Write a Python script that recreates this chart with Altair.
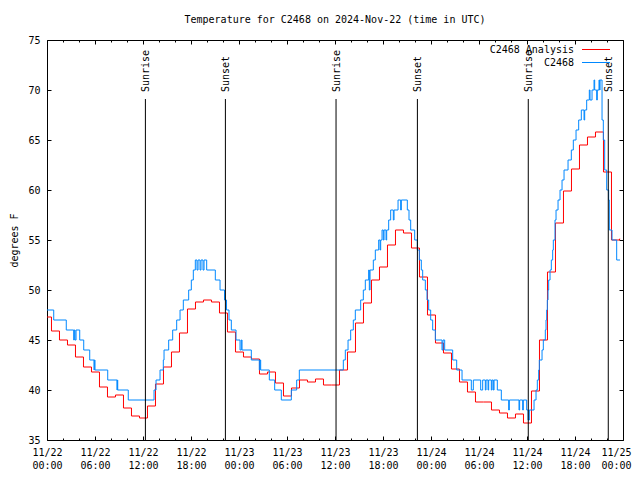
import altair as alt
import pandas as pd

W, H = 576, 400
FONT = "DejaVu Sans Mono"

# ---- data (hours since 2024-11-22 00:00 UTC, degrees F) ----
analysis_temps = [47.3, 45.9, 45.0, 44.5, 43.3, 42.3, 41.8, 40.3, 39.3, 39.5, 38.2, 37.4,
                  37.2, 38.4, 40.6, 42.3, 43.8, 45.7, 48.1, 48.8, 49.0, 48.8, 47.7, 45.8,
                  43.8, 43.3, 43.1, 41.6, 41.8, 40.7, 39.4, 40.2, 41.0, 40.8, 41.1, 40.5,
                  40.5, 42.0, 43.8, 46.7, 48.7, 51.0, 52.3, 54.5, 56.0, 55.7, 54.2, 51.3,
                  47.5, 44.7, 43.7, 42.1, 40.8, 39.8, 38.8, 38.8, 38.0, 37.7, 37.2, 37.6,
                  36.7, 39.9, 45.0, 51.8, 56.7, 59.9, 62.1, 64.5, 65.3, 65.8, 61.8, 55.0, 55.1]
analysis_hours = [0.0] + [k + 0.56 for k in range(72)]
analysis_end_hour = 71.65

obs_hours = [0.00, 0.84, 2.41, 3.34, 3.41, 3.50, 3.63, 4.09, 4.59, 5.34, 5.88, 5.92, 6.00,
             7.59, 8.75, 8.79, 8.84, 10.16, 13.38, 13.63, 14.13, 14.54, 14.63, 15.21, 15.71,
             16.21, 16.63, 17.04, 17.71, 18.04, 18.29, 18.54, 18.75, 18.88, 19.13, 19.25,
             19.50, 19.63, 19.96, 21.04, 21.63, 22.19, 22.44, 22.75, 23.04, 23.63, 24.13,
             24.29, 24.38, 25.54, 26.54, 26.63, 26.71, 27.79, 28.46, 29.29, 30.54, 31.21,
             31.54, 37.04, 37.29, 37.63, 37.96, 38.29, 38.54, 39.21, 39.54, 39.79, 40.21,
             40.29, 40.38, 40.79, 41.04, 41.46, 41.63, 41.71, 41.88, 42.04, 42.13, 42.38,
             42.46, 42.71, 42.96, 43.29, 43.38, 43.88, 44.21, 44.29, 45.04, 45.25, 45.46,
             45.96, 46.29, 46.54, 46.79, 46.96, 47.29, 47.50, 47.71, 47.96, 48.21, 48.54,
             49.38, 49.50, 49.71, 50.71, 51.21, 51.88, 53.04, 53.29, 54.21, 54.46, 54.79,
             54.88, 55.13, 55.21, 55.54, 55.63, 55.79, 55.88, 56.29, 56.79, 57.71, 57.79,
             59.00, 59.08, 59.46, 59.54, 59.96, 60.13, 60.29, 60.88, 61.13, 61.29, 61.46,
             61.54, 61.88, 62.04, 62.29, 62.38, 62.46, 62.54, 62.63, 62.71, 62.88, 63.04,
             63.21, 63.29, 63.50, 63.63, 63.88, 64.13, 64.38, 64.63, 65.13, 65.54, 65.79,
             66.13, 66.46, 66.79, 67.13, 67.21, 67.46, 67.79, 67.88, 68.13, 68.38, 68.46,
             68.71, 68.79, 69.00, 69.08, 69.13, 69.38, 69.54, 69.71, 69.96, 70.21, 70.29,
             70.63, 71.21, 71.63]
obs_temps = [48, 47, 46, 45, 46, 45, 46, 45, 44, 43, 42, 43, 42,
             41, 40, 41, 40, 39, 40, 41, 42, 43, 44, 45, 46,
             47, 48, 49, 50, 51, 52, 53, 52, 53, 52, 53,
             52, 53, 52, 51, 50, 49, 48, 47, 46, 45, 44,
             45, 44, 43, 42, 43, 42, 41, 40, 39, 40, 41,
             42, 43, 44, 45, 46, 47, 48, 49, 50, 51, 52,
             50, 52, 53, 54, 55, 54, 55, 56, 55, 56, 55,
             56, 57, 58, 57, 58, 59, 58, 59, 58, 57, 56,
             55, 54, 53, 52, 51, 50, 49, 48, 47, 46, 45,
             44, 45, 44, 43, 42, 41, 40, 41, 40, 41, 40,
             41, 40, 41, 40, 41, 40, 41, 40, 39, 38, 39,
             38, 39, 38, 39, 38, 37, 38, 39, 40, 41, 42,
             43, 44, 45, 46, 47, 48, 49, 50, 51, 52, 53,
             54, 55, 57, 58, 59, 60, 61, 62, 63, 64, 65,
             66, 67, 68, 67, 68, 69, 70, 69, 70, 71, 70,
             69, 70, 71, 70, 71, 67, 65, 62, 60, 59, 56,
             55, 53, 53]

sun_hours = [12.3, 22.3, 36.13, 46.3, 60.16, 70.16]
sun_labels = ["Sunrise", "Sunset", "Sunrise", "Sunset", "Sunrise", "Sunset"]

major_ticks = [0, 6, 12, 18, 24, 30, 36, 42, 48, 54, 60, 66, 72]
minor_ticks = [2, 4, 8, 10, 14, 16, 20, 22, 26, 28, 32, 34, 38, 40, 44, 46, 50, 52, 56, 58, 62, 64, 68, 70]
y_ticks = [35, 40, 45, 50, 55, 60, 65, 70, 75]

series_names = ["C2468 Analysis", "C2468"]
series_colors = ["#ff0000", "#0088ff"]

# ---- frames ----
red_df = pd.DataFrame({"hour": analysis_hours + [analysis_end_hour],
                       "temp": analysis_temps + [analysis_temps[-1]]})
blue_df = pd.DataFrame({"hour": obs_hours, "temp": obs_temps})
sun_df = pd.DataFrame({"hour": sun_hours, "label": sun_labels})

xs = alt.Scale(domain=[0, 72], nice=False, zero=False)
ys = alt.Scale(domain=[35, 75], nice=False, zero=False)

label_expr = ("['11/' + (22 + floor(datum.value / 24)), "
              "(datum.value % 24 < 10 ? '0' : '') + (datum.value % 24) + ':00']")


def tick_axis(orient, values, size, offset):
    return alt.Axis(orient=orient, values=values, tickSize=size, offset=offset,
                    labels=False, domain=False, grid=False, tickColor="black",
                    tickWidth=1, title=None)


red = alt.Chart(red_df).mark_line(interpolate="step-after", color=series_colors[0],
                                  strokeWidth=1).encode(
    x=alt.X("hour:Q", scale=xs, title=None,
            axis=alt.Axis(orient="bottom", values=major_ticks, labelExpr=label_expr,
                          tickSize=0, labelPadding=7, labelLineHeight=13,
                          labelAlign=alt.ExprRef("datum.value == 72 ? 'right' : 'center'"),
                          labelOffset=alt.ExprRef("datum.value == 72 ? 8 : 0"),
                          labelFlush=False, labelOverlap=False, domain=False, grid=False)),
    y=alt.Y("temp:Q", scale=ys, title="degrees F",
            axis=alt.Axis(orient="left", values=y_ticks, tickSize=0, labelPadding=7,
                          labelFlush=False, labelOverlap=False, domain=False, grid=False,
                          titlePadding=8)),
)

blue = alt.Chart(blue_df).mark_line(interpolate="step-after", color=series_colors[1],
                                    strokeWidth=1).encode(
    x=alt.X("hour:Q", scale=xs, axis=tick_axis("top", major_ticks, 4, -H)),
    y=alt.Y("temp:Q", scale=ys, axis=tick_axis("right", y_ticks, 4, -W)),
)

dummy1 = alt.Chart(red_df).mark_line(strokeOpacity=0).encode(
    x=alt.X("hour:Q", scale=xs, axis=tick_axis("bottom", major_ticks, 4, -H)),
    y=alt.Y("temp:Q", scale=ys, axis=tick_axis("left", y_ticks, 4, -W)),
)
dummy2 = alt.Chart(red_df).mark_line(strokeOpacity=0).encode(
    x=alt.X("hour:Q", scale=xs, axis=tick_axis("top", minor_ticks, 2, -H)),
    y=alt.Y("temp:Q", scale=ys, axis=None),
)
dummy3 = alt.Chart(red_df).mark_line(strokeOpacity=0).encode(
    x=alt.X("hour:Q", scale=xs, axis=tick_axis("bottom", minor_ticks, 2, -H)),
    y=alt.Y("temp:Q", scale=ys, axis=None),
)

sun_rules = alt.Chart(sun_df).mark_rule(color="black", strokeWidth=1).encode(
    x=alt.X("hour:Q", scale=xs, axis=None),
    y=alt.value(59), y2=alt.value(H),
)
sun_text = alt.Chart(sun_df).mark_text(angle=270, align="left", baseline="middle",
                                       font=FONT, fontSize=10, color="black", dy=1).encode(
    x=alt.X("hour:Q", scale=xs, axis=None),
    y=alt.value(52),
    text="label:N",
)


def legend_entry(name, color, ypix):
    d = pd.DataFrame({"name": [name]})
    txt = alt.Chart(d).mark_text(align="right", baseline="middle", font=FONT, fontSize=10,
                                 color="black").encode(
        x=alt.value(527), y=alt.value(ypix), text="name:N")
    ln = alt.Chart(d).mark_rule(color=color, strokeWidth=1).encode(
        x=alt.value(535), x2=alt.value(563), y=alt.value(ypix))
    return [txt, ln]


legend_layers = legend_entry(series_names[0], series_colors[0], 9.5) + \
    legend_entry(series_names[1], series_colors[1], 22.5)

chart = alt.layer(red, blue, dummy1, dummy2, dummy3, sun_rules, sun_text,
                  *legend_layers).resolve_axis(
    x="independent", y="independent"
).properties(
    width=W, height=H,
    autosize=alt.AutoSizeParams(type="none"),
    padding={"left": 39, "top": 32, "right": 9, "bottom": 32},
    title=alt.TitleParams("Temperature for C2468 on 2024-Nov-22 (time in UTC)",
                          font=FONT, fontSize=10, fontWeight="normal", anchor="middle",
                          frame="group", offset=10, color="black"),
).configure_view(
    stroke="black", strokeWidth=1
).configure_axis(
    labelFont=FONT, labelFontSize=10, labelColor="black",
    titleFont=FONT, titleFontSize=10, titleFontWeight="normal", titleColor="black",
)

chart.save("out.html", embed_options={"renderer": "svg", "actions": False})
